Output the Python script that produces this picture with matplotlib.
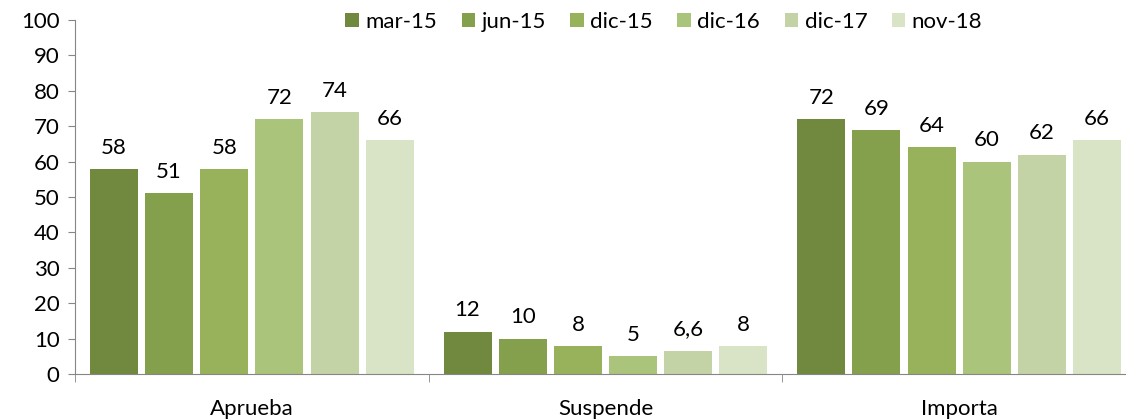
import numpy as np
import matplotlib
matplotlib.use('Agg')
import matplotlib.pyplot as plt

categories = ['Aprueba', 'Suspende', 'Importa']
series = ['mar-15', 'jun-15', 'dic-15', 'dic-16', 'dic-17', 'nov-18']
values = [
    [58, 12, 72],
    [51, 10, 69],
    [58, 8, 64],
    [72, 5, 60],
    [74, 6.6, 62],
    [66, 8, 66],
]
colors = ['#71893F', '#84A04C', '#97B25B', '#AAC47B', '#C3D3A6', '#D8E4C5']

plt.rcParams['font.family'] = ['Lato', 'DejaVu Sans']
fs = 16

fig = plt.figure(figsize=(11.26, 4.2), dpi=100)
ax = fig.add_axes([75 / 1126, 46 / 420, 1061 / 1126, 354 / 420])

x = np.arange(len(categories))
width = 0.136
pitch = 0.156
for i, (name, vals) in enumerate(zip(series, values)):
    pos = x + (i - 2.5) * pitch
    bars = ax.bar(pos, vals, width, color=colors[i], label=name)
    for b, v in zip(bars, vals):
        txt = str(v).replace('.', ',')
        ax.annotate(txt, (b.get_x() + b.get_width() / 2, v),
                    xytext=(0, 8), textcoords='offset points',
                    ha='center', va='bottom', fontsize=fs)

ax.set_xlim(-0.5, 2.5)
ax.set_ylim(0, 100)
ax.set_yticks(range(0, 101, 10))
ax.tick_params(axis='y', labelsize=fs, length=5, color='#868686', pad=6)
ax.set_xticks(x)
ax.set_xticklabels(categories)
ax.tick_params(axis='x', which='major', length=0, labelsize=fs, pad=18)
ax.set_xticks([-0.5, 0.5, 1.5, 2.5], minor=True)
ax.tick_params(axis='x', which='minor', length=6, color='#868686')

for s in ['top', 'right']:
    ax.spines[s].set_visible(False)
for s in ['left', 'bottom']:
    ax.spines[s].set_color('#868686')

ax.legend(loc='upper center', bbox_to_anchor=(0.555, 1.08), ncol=6, frameon=False,
          fontsize=fs, handlelength=0.6, handleheight=0.6, handletextpad=0.3,
          columnspacing=1.1)

fig.savefig('out.png', dpi=100)
